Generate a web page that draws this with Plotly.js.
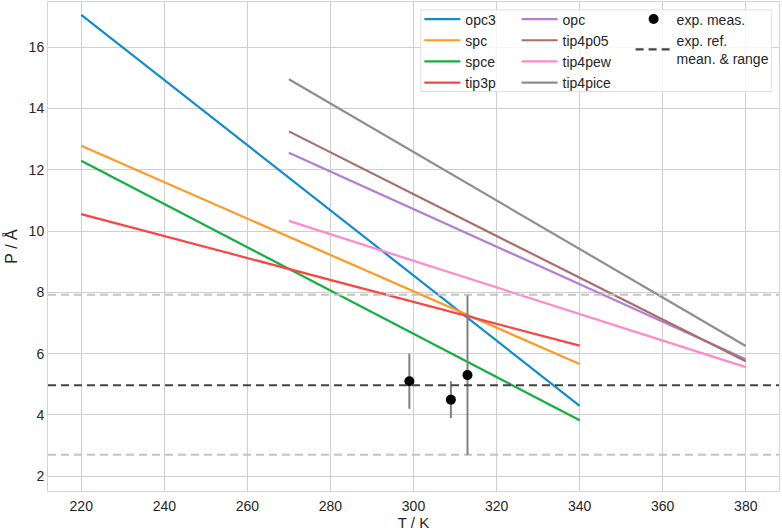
<!DOCTYPE html>
<html>
<head>
<meta charset="utf-8">
<script src="https://cdn.plot.ly/plotly-3.0.1.min.js"></script>
<style>
  html, body { margin: 0; padding: 0; background: #fff; }
  #chart { width: 782px; height: 531px; }
</style>
</head>
<body>
<div id="chart"></div>
<script>
// water models: straight lines between start and end temperature
const models = ['opc3', 'spc', 'spce', 'tip3p', 'opc', 'tip4p05', 'tip4pew', 'tip4pice'];
const colors = ['#0f8ccc', '#ff9922', '#12b03e', '#fb4444', '#b27ed4', '#a86e68', '#ff88d0', '#8e8e8e'];
const tStart = [220, 220, 220, 220, 270, 270, 270, 270];
const tEnd = [340, 340, 340, 340, 380, 380, 380, 380];
const pStart = [17.05, 12.78, 12.29, 10.55, 12.55, 13.25, 10.33, 14.95];
const pEnd = [4.3, 5.66, 3.83, 6.26, 5.82, 5.75, 5.56, 6.25];

// experimental measurements
const expT = [299, 309, 313];
const expP = [5.1, 4.5, 5.3];
const expErr = [0.9, 0.6, 2.6];

// experimental reference mean and range
const refMean = 4.97;
const refLow = 2.7;
const refHigh = 7.92;

const xRange = [212, 388];
const yRange = [1.52, 17.47];

const traces = models.map((m, i) => ({
  x: [tStart[i], tEnd[i]],
  y: [pStart[i], pEnd[i]],
  mode: 'lines',
  name: m,
  line: { color: colors[i], width: 2.2 },
  legend: i < 4 ? 'legend' : 'legend2'
}));

traces.push({
  x: xRange, y: [refLow, refLow], mode: 'lines', showlegend: false,
  line: { color: '#c4c4c4', width: 2, dash: '8px,5px' }, hoverinfo: 'skip'
});
traces.push({
  x: xRange, y: [refHigh, refHigh], mode: 'lines', showlegend: false,
  line: { color: '#c4c4c4', width: 2, dash: '8px,5px' }, hoverinfo: 'skip'
});
traces.push({
  x: expT, y: expP, mode: 'markers', name: 'exp. meas.',
  marker: { color: '#000', size: 10 },
  error_y: { type: 'data', array: expErr, visible: true, color: '#808080', thickness: 2, width: 0 },
  legend: 'legend3'
});
traces.push({
  x: xRange, y: [refMean, refMean], mode: 'lines', name: 'exp. ref.<br>mean. & range',
  line: { color: '#444444', width: 2.2, dash: '8px,5px' },
  legend: 'legend3'
});

const legendBase = {
  bgcolor: 'rgba(0,0,0,0)',
  font: { family: 'Liberation Sans, Arial, sans-serif', size: 14, color: '#262626' },
  yanchor: 'top', y: 0.997, xanchor: 'left',
  itemwidth: 36,
  tracegroupgap: 0
};

const layout = {
  width: 782, height: 531,
  margin: { l: 48, r: 3, t: 2, b: 40 },
  paper_bgcolor: '#fff', plot_bgcolor: '#fff',
  font: { family: 'Liberation Sans, Arial, sans-serif', size: 14, color: '#262626' },
  xaxis: {
    range: xRange, tickvals: [220, 240, 260, 280, 300, 320, 340, 360, 380],
    showgrid: true, gridcolor: '#cfcfcf', gridwidth: 1,
    showline: true, linecolor: '#d4d4d4', linewidth: 1, mirror: true,
    zeroline: false, ticks: '', ticklabelstandoff: 2,
    title: { text: 'T / K', font: { size: 15 }, standoff: 5 }
  },
  yaxis: {
    range: yRange, tickvals: [2, 4, 6, 8, 10, 12, 14, 16],
    showgrid: true, gridcolor: '#cfcfcf', gridwidth: 1,
    showline: true, linecolor: '#d4d4d4', linewidth: 1, mirror: true,
    zeroline: false, ticks: '',
    title: { text: 'P / Å', font: { size: 16 }, standoff: 7 }
  },
  legend: Object.assign({}, legendBase, { x: 0.508 }),
  legend2: Object.assign({}, legendBase, { x: 0.641 }),
  legend3: Object.assign({}, legendBase, { x: 0.797 }),
  shapes: [{
    type: 'rect', xref: 'paper', yref: 'paper',
    x0: 0.51, x1: 0.99, y0: 0.817, y1: 0.984,
    fillcolor: 'rgba(255,255,255,0.8)', line: { color: '#e0e0e0', width: 1 },
    layer: 'above'
  }],
  showlegend: true
};

Plotly.newPlot('chart', traces, layout, { displayModeBar: false, staticPlot: true });
</script>
</body>
</html>
